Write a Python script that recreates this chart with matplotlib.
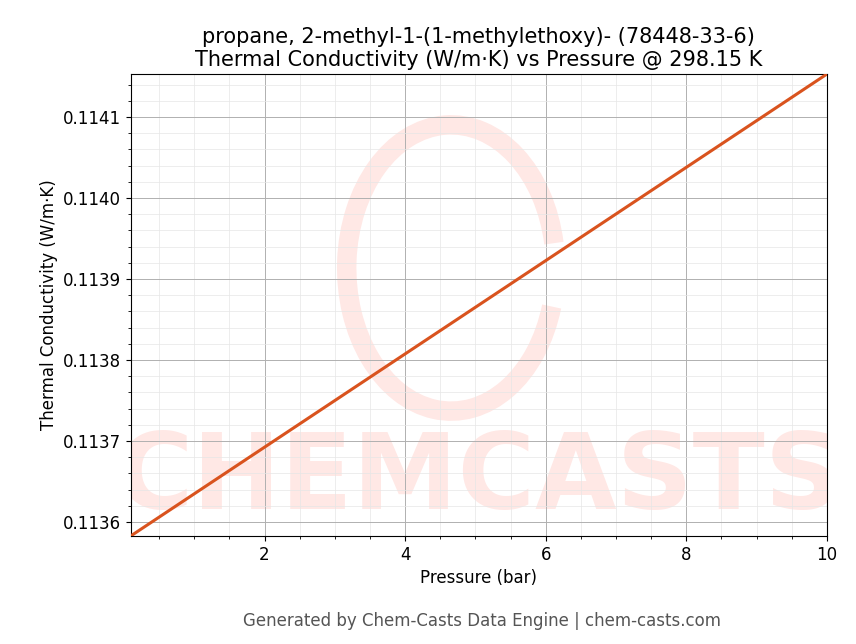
import matplotlib
matplotlib.use("Agg")
import matplotlib.pyplot as plt
from matplotlib.patches import Arc

pressure = [0.1, 10.0]
conductivity = [0.113583, 0.114153]

fig = plt.figure(figsize=(8.56, 6.44), dpi=100)
ax = fig.add_axes([0.153, 0.168, 0.813, 0.717])

# watermark
ax.text(0.5, 0.12, "CHEMCASTS", transform=ax.transAxes, ha="center", va="center",
        fontsize=76, fontweight="bold", color="#ffe8e5", zorder=0, clip_on=True)
ax.add_patch(Arc((0.46, 0.58), 0.3, 0.62, transform=ax.transAxes, theta1=20, theta2=330,
                 lw=14, color="#ffe8e5", zorder=0))

ax.plot(pressure, conductivity, color="#d9531e", lw=2.2, zorder=3)
ax.set_xlim(0.1, 10)
ax.set_ylim(0.113583, 0.114153)
ax.set_xticks([2, 4, 6, 8, 10])
ax.set_yticks([0.1136, 0.1137, 0.1138, 0.1139, 0.1140, 0.1141])
ax.minorticks_on()
ax.grid(which="major", color="#b0b0b0", lw=0.7)
ax.grid(which="minor", color="#e6e6e6", lw=0.5)
ax.tick_params(labelsize=12)
ax.set_xlabel("Pressure (bar)", fontsize=12)
ax.set_ylabel("Thermal Conductivity (W/m·K)", fontsize=12)
ax.set_title("propane, 2-methyl-1-(1-methylethoxy)- (78448-33-6)\n"
             "Thermal Conductivity (W/m·K) vs Pressure @ 298.15 K", fontsize=15)
fig.text(0.563, 0.028, "Generated by Chem-Casts Data Engine | chem-casts.com",
         ha="center", fontsize=12, color="#555555")
fig.savefig("out.png", dpi=100)
